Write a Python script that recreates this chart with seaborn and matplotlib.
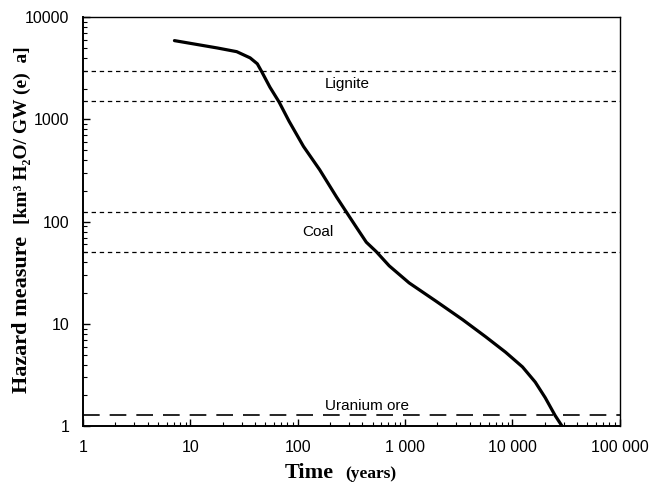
"""
Hazard measure of spent fuel vs. time, compared with lignite, coal and uranium ore
"""

import matplotlib
matplotlib.use('Agg')
import matplotlib.pyplot as plt
import matplotlib.ticker as mticker
import numpy as np
import pandas as pd
import seaborn as sns

# curve (time in years, hazard measure)
time_years = [7.1, 17.8, 27, 36, 42, 46, 55, 67, 83, 113, 160, 230, 284, 352,
              435, 538, 711, 1090, 1940, 3440, 5620, 8610, 12400, 16300,
              20200, 25000, 29000]
hazard = [5900, 5000, 4600, 4000, 3500, 2950, 2070, 1480, 960, 545, 322, 174,
          124, 88, 63, 51, 37, 25.2, 16.7, 11.0, 7.5, 5.3, 3.8, 2.7, 1.9,
          1.27, 1.0]

# reference levels
lignite_band = [3000, 1500]
coal_band = [125, 50]
uranium_level = 1.3

x_ticks = [1, 10, 100, 1000, 10000, 100000]
x_tick_labels = ['1', '10', '100', '1 000', '10 000', '100 000']
y_ticks = [1, 10, 100, 1000, 10000]
y_tick_labels = ['1', '10', '100', '1000', '10000']

sns.set_style('ticks')
plt.rcParams['font.family'] = ['Liberation Sans', 'DejaVu Sans']
plt.rcParams['text.color'] = 'black'
plt.rcParams['xtick.color'] = 'black'
plt.rcParams['ytick.color'] = 'black'
plt.rcParams['axes.edgecolor'] = 'black'

fig = plt.figure(figsize=(6.49, 4.91), dpi=100)
ax = fig.add_axes([0.128, 0.132, 0.827, 0.833])

df = pd.DataFrame({'Time': time_years, 'Hazard': hazard})
sns.lineplot(data=df, x='Time', y='Hazard', ax=ax, color='black',
             linewidth=2.3, sort=False)

for level in lignite_band + coal_band:
    ax.axhline(level, color='black', linewidth=0.9, linestyle=(0, (3.5, 3)))
ax.axhline(uranium_level, color='black', linewidth=1.2, linestyle=(0, (10, 6)))

ax.text(287, 2210, 'Lignite', ha='center', va='center', fontsize=11)
ax.text(154, 79, 'Coal', ha='center', va='center', fontsize=11)
ax.text(441, 1.57, 'Uranium ore', ha='center', va='center', fontsize=11)

ax.set_xscale('log')
ax.set_yscale('log')
ax.set_xlim(1, 100000)
ax.set_ylim(1, 10000)

ax.xaxis.set_major_locator(mticker.FixedLocator(x_ticks))
ax.xaxis.set_major_formatter(mticker.FixedFormatter(x_tick_labels))
ax.yaxis.set_major_locator(mticker.FixedLocator(y_ticks))
ax.yaxis.set_major_formatter(mticker.FixedFormatter(y_tick_labels))
ax.xaxis.set_minor_locator(mticker.LogLocator(base=10, subs=np.arange(2, 10), numticks=20))
ax.yaxis.set_minor_locator(mticker.LogLocator(base=10, subs=np.arange(2, 10), numticks=20))
ax.xaxis.set_minor_formatter(mticker.NullFormatter())
ax.yaxis.set_minor_formatter(mticker.NullFormatter())

ax.tick_params(which='major', direction='in', length=5, width=1, labelsize=11.5)
ax.tick_params(which='minor', direction='in', length=3, width=0.8)
ax.tick_params(axis='x', which='major', pad=10)
ax.tick_params(axis='y', which='major', pad=10)

for side in ['left', 'bottom']:
    ax.spines[side].set_linewidth(1.4)
for side in ['top', 'right']:
    ax.spines[side].set_linewidth(1.0)
    ax.spines[side].set_visible(True)

ax.set_xlabel('')
ax.set_ylabel('')

serif = ['Liberation Serif', 'DejaVu Serif']
fig.text(0.034, 0.36, 'Hazard measure', rotation=90, ha='center', va='center',
         fontsize=16, fontweight='bold', family=serif)
fig.text(0.034, 0.725, '[km\u00b3 H\u2082O/ GW (e)  a]', rotation=90, ha='center',
         va='center', fontsize=14, fontweight='bold', family=serif)
fig.text(0.476, 0.037, 'Time', ha='center', va='center',
         fontsize=16, fontweight='bold', family=serif)
fig.text(0.572, 0.035, '(years)', ha='center', va='center',
         fontsize=12.5, fontweight='bold', family=serif)

fig.savefig('out.png', dpi=100, facecolor='white')
